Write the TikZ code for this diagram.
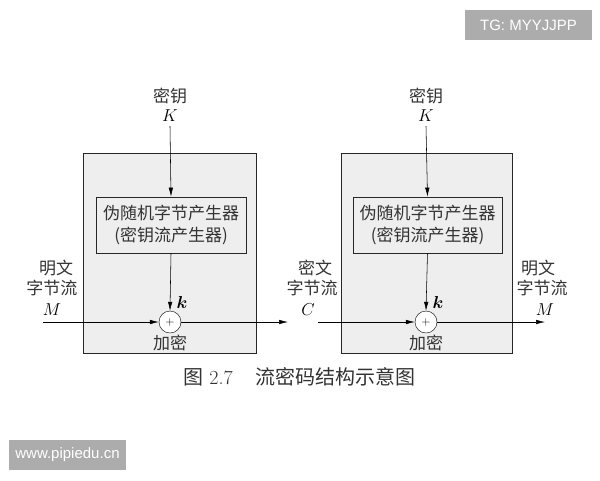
\documentclass[tikz,border=0pt]{standalone}
\usepackage{bm}
\usepackage{fontspec}
\newfontfamily\cjk{Noto Sans CJK SC}
\newfontfamily\wm{Liberation Sans}
\usetikzlibrary{positioning, arrows.meta}
\tikzset{flecha/.style={line width=0.55pt, -{Latex[length=9pt,width=4.5pt]}}}
\tikzset{caja/.style={draw=black!85, fill=gray!13, line width=0.7pt}}
\tikzset{etiq/.style={font=\cjk\fontsize{17}{22}\selectfont, align=center, inner sep=0pt, text=black!80}}
\tikzset{letra/.style={font=\fontsize{17}{17}\selectfont, inner sep=0pt}}
\tikzset{marca/.style={fill=gray!65, text=white, font=\wm\fontsize{15}{18}\selectfont, inner sep=0pt, minimum height=30pt}}

\begin{document}
\begin{tikzpicture}[x=1pt,y=-1pt]
    \useasboundingbox (0,0) rectangle (600,480);
    % left: encryption
    \node[caja, minimum width=173pt, minimum height=200pt] (boxL) at (169.5,253) {};
    \node[caja, etiq, minimum width=150pt, minimum height=56pt] (genL) at (171,225) {伪随机字节产生器\\(密钥流产生器)};
    \node[draw, circle, fill=white, minimum size=22pt, inner sep=0pt] (xorL) at (170,322) {\fontsize{12}{12}\selectfont$+$};
    \node[etiq] (keyL) at (170,96) {密钥};
    \node[letra] (kL) at (170,116) {$K$};
    \node[letra] (ksL) at (182,302) {$\bm{k}$};
    \node[etiq] (encL) at (170,343) {加密};
    \node[etiq] (ptL1) at (56,268) {明文};
    \node[etiq] (ptL2) at (52,288) {字节流};
    \node[letra] (mL) at (52,310) {$M$};
    \coordinate (inL) at (43,322);
    \coordinate (outL) at (288,322);

    \draw[flecha] ([yshift=-4pt]kL.south) -- (genL.north);
    \draw[flecha] (genL.south) -- (xorL.north);
    \draw[flecha] (inL) -- (xorL.west);
    \draw[flecha] (xorL.east) -- (outL);

    % right: decryption
    \node[caja, minimum width=171pt, minimum height=200pt] (boxR) at (426.5,253) {};
    \node[caja, etiq, minimum width=149pt, minimum height=56pt] (genR) at (427.5,225) {伪随机字节产生器\\(密钥流产生器)};
    \node[draw, circle, fill=white, minimum size=22pt, inner sep=0pt] (xorR) at (426,322) {\fontsize{12}{12}\selectfont$+$};
    \node[etiq] (keyR) at (426,96) {密钥};
    \node[letra] (kR) at (426,116) {$K$};
    \node[letra] (ksR) at (438,302) {$\bm{k}$};
    \node[etiq] (encR) at (426,343) {加密};
    \node[etiq] (ctR1) at (315,268) {密文};
    \node[etiq] (ctR2) at (312,288) {字节流};
    \node[letra] (cR) at (308,310) {$C$};
    \node[etiq] (ptR1) at (538,268) {明文};
    \node[etiq] (ptR2) at (542,288) {字节流};
    \node[letra] (mR) at (545,310) {$M$};
    \coordinate (inR) at (318,322);
    \coordinate (outR) at (545,322);

    \draw[flecha] ([yshift=-4pt]kR.south) -- (genR.north);
    \draw[flecha] (genR.south) -- (xorR.north);
    \draw[flecha] (inR) -- (xorR.west);
    \draw[flecha] (xorR.east) -- (outR);

    % caption
    \node[inner sep=0pt, font=\fontsize{20}{20}\selectfont, text=black!80] (fig) at (208,377) {{\cjk 图} 2.7};
    \node[etiq, font=\cjk\fontsize{20}{20}\selectfont] (title) at (335,377) {流密码结构示意图};

    % watermarks
    \node[marca, minimum width=127pt] (tg) at (528.5,25) {TG: MYYJJPP};
    \node[marca, minimum width=117pt] (web) at (67.5,455) {www.pipiedu.cn};
\end{tikzpicture}
\end{document}
